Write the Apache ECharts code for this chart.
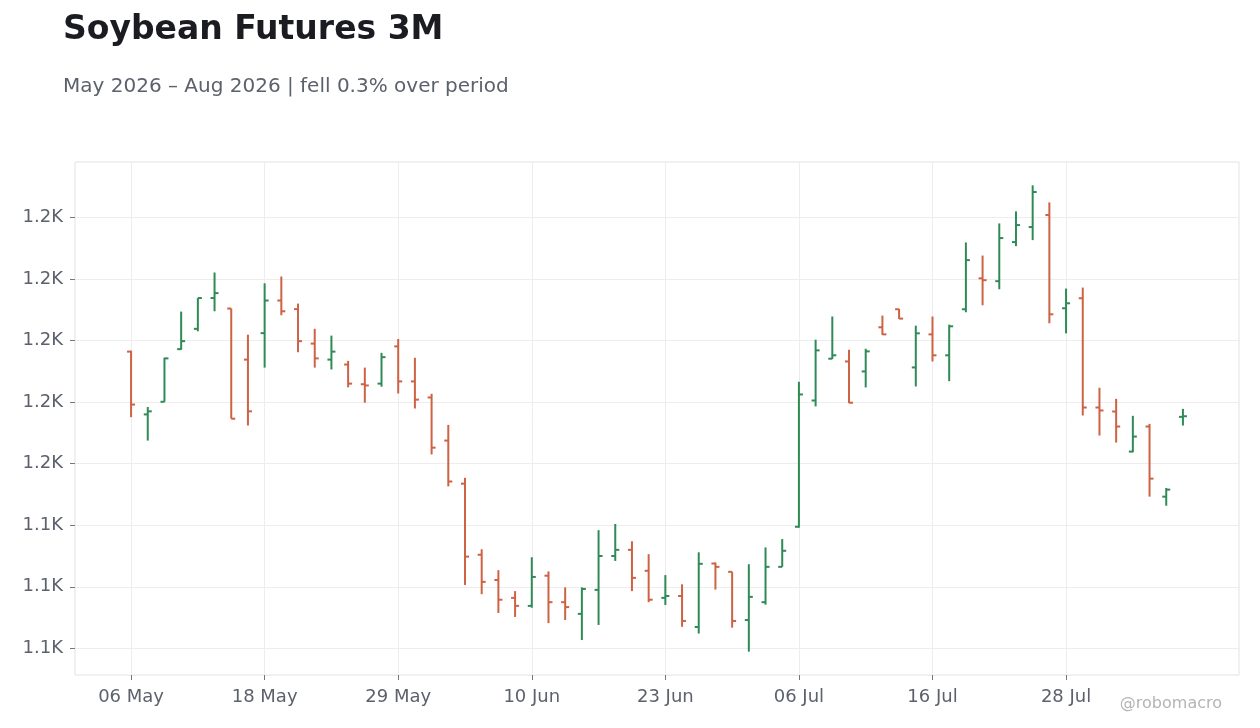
<!DOCTYPE html>
<html>
<head>
<meta charset="utf-8">
<script src="https://cdn.jsdelivr.net/npm/echarts@6/dist/echarts.min.js"></script>
<style>
  html, body { margin: 0; padding: 0; background: #ffffff; }
  #chart { width: 1260px; height: 728px; }
</style>
</head>
<body>
<div id="chart"></div>
<script>
// Trading days (categories)
const dates = [
  '06 May','07 May','08 May','11 May','12 May','13 May','14 May','15 May',
  '18 May','19 May','20 May','21 May','22 May','26 May','27 May','28 May',
  '29 May','01 Jun','02 Jun','03 Jun','04 Jun','05 Jun','08 Jun','09 Jun',
  '10 Jun','11 Jun','12 Jun','15 Jun','16 Jun','17 Jun','18 Jun','22 Jun',
  '23 Jun','24 Jun','25 Jun','26 Jun','29 Jun','30 Jun','01 Jul','02 Jul',
  '06 Jul','07 Jul','08 Jul','09 Jul','10 Jul','13 Jul','14 Jul','15 Jul',
  '16 Jul','17 Jul','20 Jul','21 Jul','22 Jul','23 Jul','24 Jul','27 Jul',
  '28 Jul','29 Jul','30 Jul','31 Jul','03 Aug','04 Aug','05 Aug','06 Aug'
];
const openV = [
  1178.2,1168.0,1170.05,1178.6,1181.9,1186.9,1185.2,1176.9,
  1181.2,1186.5,1185.1,1179.5,1176.9,1176.1,1172.9,1173.0,
  1179.05,1173.36,1170.75,1163.75,1156.75,1145.2,1141.1,1138.2,
  1136.9,1141.8,1137.5,1135.6,1139.5,1145.0,1146.0,1142.6,
  1138.2,1138.5,1133.47,1143.78,1142.43,1134.6,1137.5,1143.24,
  1149.75,1170.26,1177.05,1176.6,1174.98,1182.15,1185.08,1175.63,
  1181.0,1177.6,1185.08,1190.1,1189.64,1195.99,1198.43,1200.38,
  1185.24,1186.87,1169.12,1168.47,1161.96,1166.03,1154.64,1167.6
];
const highV = [
  1178.35,1169.2,1177.2,1184.7,1186.9,1191.05,1185.2,1180.95,
  1189.3,1190.4,1186.0,1181.9,1180.8,1176.7,1175.6,1178.0,
  1180.25,1177.2,1171.35,1166.3,1157.7,1146.1,1142.7,1139.3,
  1144.8,1142.5,1139.9,1139.9,1149.2,1150.2,1147.4,1145.3,
  1141.9,1140.4,1145.6,1143.95,1142.43,1143.67,1146.4,1147.75,
  1173.3,1180.14,1183.9,1178.5,1178.67,1184.05,1185.13,1182.42,
  1183.9,1182.58,1195.93,1193.8,1199.02,1200.98,1205.21,1202.44,
  1188.44,1188.6,1172.33,1170.53,1167.77,1166.46,1156.05,1168.9
];
const lowV = [
  1167.55,1163.75,1170.05,1178.5,1181.5,1184.75,1167.3,1166.2,
  1175.6,1184.1,1178.1,1175.6,1175.3,1172.4,1169.9,1172.5,
  1171.4,1168.96,1161.5,1156.3,1140.3,1138.8,1135.75,1135.1,
  1136.6,1134.1,1134.6,1131.35,1133.8,1144.2,1139.3,1137.5,
  1137.05,1133.5,1132.4,1139.55,1133.36,1129.46,1137.1,1143.24,
  1149.6,1169.3,1177.0,1169.83,1172.38,1180.9,1183.5,1172.54,
  1176.6,1173.4,1184.59,1185.73,1188.33,1195.33,1196.31,1182.8,
  1181.17,1167.82,1164.57,1163.43,1161.85,1154.64,1153.17,1166.19
];
const closeV = [
  1169.6,1168.5,1177.1,1179.9,1186.9,1187.7,1167.3,1168.5,
  1186.5,1184.75,1179.9,1177.1,1178.2,1173.0,1172.7,1177.3,
  1173.36,1170.4,1162.6,1157.1,1144.9,1140.8,1137.9,1136.9,
  1141.6,1137.5,1136.7,1139.65,1145.0,1146.0,1141.45,1137.9,
  1138.5,1134.45,1143.73,1143.24,1134.45,1138.36,1143.24,1145.85,
  1171.24,1178.4,1177.6,1169.9,1178.24,1181.0,1183.56,1181.17,
  1177.6,1182.31,1193.06,1189.8,1196.64,1198.75,1204.12,1184.26,
  1186.05,1169.12,1168.64,1166.03,1164.4,1157.57,1155.78,1167.7
];
const yTicks = [1130, 1140, 1150, 1160, 1170, 1180, 1190, 1200];
const labelStep = 8;

const UP = '#2e8b57';
const DOWN = '#cd6244';
const FONT = 'DejaVu Sans';

const ohlc = dates.map((d, i) => [i, openV[i], closeV[i], lowV[i], highV[i]]);
const xTicks = dates.map((d, i) => i).filter(i => i % labelStep === 0);

const dataMin = Math.min(...lowV), dataMax = Math.max(...highV);
const pad = (dataMax - dataMin) * 0.05;
const n = dates.length;
const xPad = (n - 1) * 0.0533;

const chart = echarts.init(document.getElementById('chart'));
chart.setOption({
  animation: false,
  backgroundColor: '#ffffff',
  title: {
    text: 'Soybean Futures 3M',
    subtext: 'May 2026 – Aug 2026 | fell 0.3% over period',
    left: 58, top: 9,
    itemGap: 30,
    textStyle: { fontFamily: FONT, fontSize: 33, fontWeight: 'bold', color: '#1b1b22' },
    subtextStyle: { fontFamily: FONT, fontSize: 20, color: '#5d616c' }
  },
  graphic: [{
    type: 'text', right: 38, top: 696,
    style: { text: '@robomacro', fontFamily: FONT, fontSize: 16, fill: '#b4b4b4' }
  }],
  grid: {
    left: 75, right: 21, top: 162, bottom: 53,
    show: true, borderColor: '#e2e2e2', borderWidth: 1, backgroundColor: '#ffffff'
  },
  xAxis: {
    type: 'value',
    min: -xPad, max: n - 1 + xPad,
    axisLine: { show: false, onZero: false },
    axisTick: { show: true, length: 5, customValues: xTicks, lineStyle: { color: '#777' } },
    axisLabel: {
      customValues: xTicks,
      formatter: v => dates[Math.round(v)] || '',
      fontFamily: FONT, fontSize: 18, color: '#5d616c', margin: 13
    },
    splitLine: { show: true, lineStyle: { color: '#ededed', width: 1 } }
  },
  yAxis: {
    type: 'value',
    min: dataMin - pad, max: dataMax + pad,
    axisLine: { show: false, onZero: false },
    axisTick: { show: true, length: 5, customValues: yTicks, lineStyle: { color: '#777' } },
    axisLabel: {
      customValues: yTicks,
      formatter: v => (v / 1000).toFixed(1) + 'K',
      fontFamily: FONT, fontSize: 18, color: '#5d616c', margin: 12
    },
    splitLine: { show: true, lineStyle: { color: '#ededed', width: 1 } }
  },
  series: [{
    type: 'custom',
    data: ohlc,
    encode: { x: 0, y: [1, 2, 3, 4] },
    renderItem: function (params, api) {
      const x = api.value(0);
      const o = api.value(1), c = api.value(2), l = api.value(3), h = api.value(4);
      const po = api.coord([x, o]);
      const pc = api.coord([x, c]);
      const pl = api.coord([x, l]);
      const ph = api.coord([x, h]);
      const color = c >= o ? UP : DOWN;
      const st = { stroke: color, lineWidth: 2 };
      return {
        type: 'group',
        children: [
          { type: 'line', shape: { x1: ph[0], y1: ph[1], x2: pl[0], y2: pl[1] }, style: st },
          { type: 'line', shape: { x1: po[0] - 4, y1: po[1], x2: po[0], y2: po[1] }, style: st },
          { type: 'line', shape: { x1: pc[0], y1: pc[1], x2: pc[0] + 4, y2: pc[1] }, style: st }
        ]
      };
    }
  }]
});
</script>
</body>
</html>
